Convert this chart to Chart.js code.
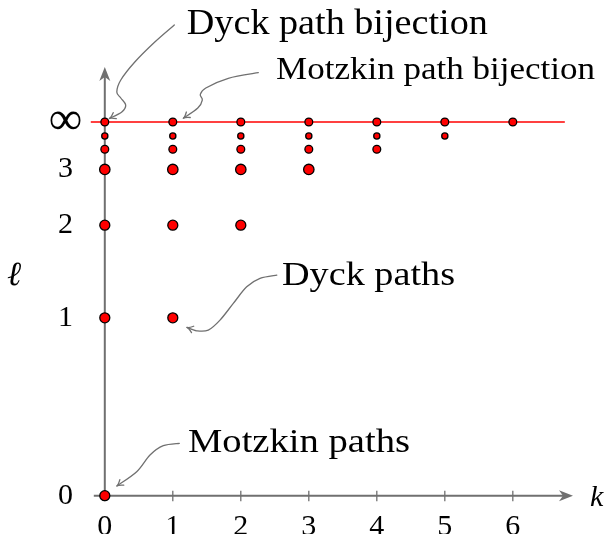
<!DOCTYPE html>
<html>
<head>
<meta charset="utf-8">
<script src="https://cdn.jsdelivr.net/npm/chart.js@4"></script>
<style>
  html, body { margin: 0; padding: 0; background: #fff; }
  #plot { display: block; }
</style>
</head>
<body>
<canvas id="plot" width="607" height="534"></canvas>
<script>
// data
var kValues = [0, 1, 2, 3, 4, 5, 6];
var levelLabels = ['0', '1', '2', '3', '4', '5', '∞'];
// where each level sits on the (squeezed) vertical axis, ∞ = 1
var levelPositions = [0, 0.476, 0.724, 0.873, 0.927, 0.9625, 1];
var tickLevels = [0, 1, 2, 3, 6];
var pointK     = [0, 0, 0, 0, 0, 0, 0, 1, 1, 1, 1, 1, 1, 2, 2, 2, 2, 2, 3, 3, 3, 3, 4, 4, 4, 5, 5, 6];
var pointLevel = [0, 1, 2, 3, 4, 5, 6, 1, 2, 3, 4, 5, 6, 2, 3, 4, 5, 6, 3, 4, 5, 6, 4, 5, 6, 5, 6, 6];

// styles
var serif = "'Liberation Serif', 'DejaVu Serif', serif";
var axisColor = '#707070';
var levelRadius = [5, 5, 5, 5.2, 3.9, 3.1, 3.9];
var infSize = 47;

var points = pointK.map(function (k, i) {
  return { x: k, y: levelPositions[pointLevel[i]] };
});

// centre the y labels on the widest one (∞)
var mctx = document.createElement('canvas').getContext('2d');
mctx.font = infSize + 'px ' + serif;
var infWidth = mctx.measureText('∞').width;
var yPad = 104.8 - 65.5 - infWidth / 2;

// curve through a few points (catmull-rom), with a small arrow head at the end
function curveArrow(ctx, ox, oy, pts) {
  var p = pts.map(function (d) { return [ox + d[0], oy + d[1]]; });
  ctx.beginPath();
  ctx.moveTo(p[0][0], p[0][1]);
  for (var i = 0; i < p.length - 1; i++) {
    var p0 = p[i - 1] || p[i], p1 = p[i], p2 = p[i + 1], p3 = p[i + 2] || p2;
    ctx.bezierCurveTo(
      p1[0] + (p2[0] - p0[0]) / 6, p1[1] + (p2[1] - p0[1]) / 6,
      p2[0] - (p3[0] - p1[0]) / 6, p2[1] - (p3[1] - p1[1]) / 6,
      p2[0], p2[1]);
  }
  ctx.stroke();
  var a = p[p.length - 2], b = p[p.length - 1];
  var ang = Math.atan2(b[1] - a[1], b[0] - a[0]);
  ctx.beginPath();
  ctx.moveTo(b[0] - 7 * Math.cos(ang - 0.5), b[1] - 7 * Math.sin(ang - 0.5));
  ctx.quadraticCurveTo(b[0] - 2 * Math.cos(ang), b[1] - 2 * Math.sin(ang), b[0], b[1]);
  ctx.quadraticCurveTo(b[0] - 2 * Math.cos(ang), b[1] - 2 * Math.sin(ang),
    b[0] - 7 * Math.cos(ang + 0.5), b[1] - 7 * Math.sin(ang + 0.5));
  ctx.stroke();
}

function fitText(ctx, text, left, base, size, width) {
  ctx.save();
  ctx.font = size + 'px ' + serif;
  var w = ctx.measureText(text).width;
  ctx.translate(left, base);
  ctx.scale(width / w, 1);
  ctx.fillText(text, 0, 0);
  ctx.restore();
}

function axisHead(ctx, x, y, ang) {
  ctx.save();
  ctx.translate(x, y);
  ctx.rotate(ang);
  ctx.beginPath();
  ctx.moveTo(0, 0);
  ctx.lineTo(-14, -5.5);
  ctx.lineTo(-10, 0);
  ctx.lineTo(-14, 5.5);
  ctx.closePath();
  ctx.fill();
  ctx.restore();
}

var decorations = {
  id: 'decorations',
  beforeDatasetsDraw: function (chart) {
    var ctx = chart.ctx, xs = chart.scales.x, ys = chart.scales.y;
    var x0 = xs.getPixelForValue(0), y0 = ys.getPixelForValue(0);
    var yInf = ys.getPixelForValue(levelPositions[6]);
    ctx.save();
    // red line at ℓ = ∞
    ctx.strokeStyle = '#ff0000';
    ctx.lineWidth = 1.6;
    ctx.beginPath();
    ctx.moveTo(x0 - 14, yInf);
    ctx.lineTo(xs.getPixelForValue(6) + 52, yInf);
    ctx.stroke();
    // axes with arrows
    ctx.strokeStyle = axisColor;
    ctx.fillStyle = axisColor;
    ctx.lineWidth = 2;
    ctx.beginPath();
    ctx.moveTo(x0 - 11, y0);
    ctx.lineTo(xs.right - 10, y0);
    ctx.moveTo(x0, y0);
    ctx.lineTo(x0, chart.chartArea.top + 10);
    ctx.stroke();
    axisHead(ctx, xs.right, y0, 0);
    axisHead(ctx, x0, chart.chartArea.top, -Math.PI / 2);
    // tick marks across the k axis
    ctx.lineWidth = 1.3;
    ctx.beginPath();
    kValues.forEach(function (k) {
      var px = xs.getPixelForValue(k);
      ctx.moveTo(px, y0 - 5);
      ctx.lineTo(px, y0 + 5.5);
    });
    ctx.stroke();
    ctx.restore();
  },
  afterDraw: function (chart) {
    var ctx = chart.ctx, xs = chart.scales.x, ys = chart.scales.y;
    function at(k, lev) { return [xs.getPixelForValue(k), ys.getPixelForValue(levelPositions[lev])]; }
    ctx.save();
    ctx.strokeStyle = axisColor;
    ctx.lineWidth = 1.3;
    ctx.lineCap = 'round';

    var a = at(0, 6);
    curveArrow(ctx, a[0], a[1], [[69.5, -97], [50, -80], [30, -60], [16, -42], [12, -30], [16, -24], [20.9, -17], [17, -10], [4.5, -3.5]]);
    var b = at(1, 6);
    curveArrow(ctx, b[0], b[1], [[85.5, -49.3], [55.5, -43.7], [33, -34], [27.5, -27.5], [29.5, -22], [25, -14], [10.5, -3.7]]);
    var c = at(1, 1);
    curveArrow(ctx, c[0], c[1], [[104, -42.7], [87.2, -39.4], [73.9, -31], [60.5, -14.4], [47.2, 2.3], [35.5, 12.3], [23.9, 13], [14, 9.6]]);
    var d = at(0, 0);
    curveArrow(ctx, d[0], d[1], [[74.5, -52.4], [58.5, -50], [45.2, -40.7], [31.9, -24], [12, -9.7]]);

    ctx.fillStyle = '#000';
    ctx.textBaseline = 'alphabetic';
    fitText(ctx, 'Dyck path bijection', a[0] + 82, a[1] - 87.7, 36, 301);
    fitText(ctx, 'Motzkin path bijection', b[0] + 103.2, b[1] - 42.7, 32, 319);
    fitText(ctx, 'Dyck paths', c[0] + 109.2, c[1] - 32.7, 33, 173);
    fitText(ctx, 'Motzkin paths', d[0] + 83.2, d[1] - 44, 33, 222);

    // axis names
    ctx.font = 'italic 30px ' + serif;
    ctx.fillText('k', xs.right + 17, ys.getPixelForValue(0) + 10.5);
    ctx.font = 'italic 34px ' + serif;
    ctx.fillText('ℓ', 7, 285);
    ctx.restore();
  }
};

var canvas = document.getElementById('plot');
var chart = new Chart(canvas, {
  type: 'scatter',
  data: {
    datasets: [{
      data: points,
      backgroundColor: '#ff0000',
      borderColor: '#000000',
      borderWidth: 1.3,
      pointRadius: function (c) { return levelRadius[pointLevel[c.dataIndex]]; },
      pointHoverRadius: function (c) { return levelRadius[pointLevel[c.dataIndex]]; },
      clip: false
    }]
  },
  options: {
    responsive: false,
    animation: false,
    events: [],
    layout: { padding: { top: 67, right: 34, left: 0, bottom: 0 } },
    plugins: { legend: { display: false }, tooltip: { enabled: false } },
    scales: {
      x: {
        type: 'linear',
        min: 0,
        max: 6.885,
        grid: { display: false, drawTicks: false },
        border: { display: false },
        afterBuildTicks: function (s) { s.ticks = kValues.map(function (v) { return { value: v }; }); },
        afterFit: function (s) { s.height = 38.3; s.paddingLeft = 0; s.paddingRight = 0; },
        ticks: {
          padding: 13,
          color: '#000',
          autoSkip: false,
          maxRotation: 0,
          font: { family: serif, size: 30 },
          callback: function (v) { return String(v); }
        }
      },
      y: {
        type: 'linear',
        min: 0,
        max: 1.1472,
        grid: { display: false, drawTicks: false },
        border: { display: false },
        afterBuildTicks: function (s) { s.ticks = tickLevels.map(function (i) { return { value: levelPositions[i] }; }); },
        afterFit: function (s) { s.width = 104.8; s.paddingTop = 0; s.paddingBottom = 0; },
        ticks: {
          padding: yPad,
          crossAlign: 'center',
          color: '#000',
          autoSkip: false,
          font: function (c) {
            var inf = c.tick && c.tick.value === levelPositions[6];
            return { family: serif, size: inf ? infSize : 30 };
          },
          callback: function (v, i) { return levelLabels[tickLevels[i]]; }
        }
      }
    }
  },
  plugins: [decorations]
});
</script>
</body>
</html>
